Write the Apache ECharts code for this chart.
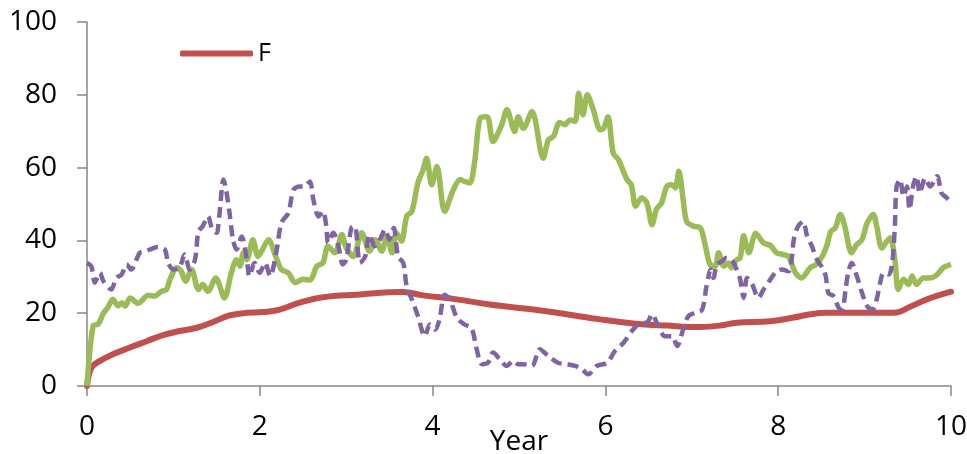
<!DOCTYPE html>
<html>
<head>
<meta charset="utf-8">
<script src="https://cdn.jsdelivr.net/npm/echarts@6/dist/echarts.min.js"></script>
<style>
  html, body { margin: 0; padding: 0; background: #fff; }
  #chart { width: 967px; height: 454px; }
</style>
</head>
<body>
<div id="chart"></div>
<script>
// F (red, smooth)
const fYears = [0, 0.05, 0.15, 0.3, 0.49, 0.69, 0.88, 1.07, 1.27, 1.46, 1.65, 1.85, 2.04, 2.23, 2.46, 2.73, 3.12, 3.66, 3.89, 4.28, 4.66, 5.17, 5.55, 5.94, 6.32, 6.71, 7.1, 7.33, 7.52, 7.91, 8.18, 8.37, 8.56, 8.95, 9.34, 9.54, 9.72, 10];
const fValues = [0, 5, 6.9, 8.7, 10.5, 12.3, 14, 15.1, 16, 17.6, 19.4, 20.1, 20.3, 21, 22.9, 24.4, 25.1, 25.8, 24.9, 23.8, 22.4, 21, 19.7, 18.3, 17.2, 16.6, 16.2, 16.6, 17.4, 17.8, 18.8, 19.7, 20.1, 20.1, 20.1, 21.9, 23.8, 25.9];

// green (solid)
const gYears = [0, 0.07, 0.13, 0.19, 0.24, 0.3, 0.36, 0.4, 0.44, 0.5, 0.59, 0.71, 0.78, 0.86, 0.92, 0.96, 1.04, 1.09, 1.14, 1.21, 1.29, 1.34, 1.4, 1.49, 1.59, 1.67, 1.73, 1.77, 1.81, 1.85, 1.92, 1.98, 2.02, 2.1, 2.19, 2.25, 2.33, 2.41, 2.5, 2.58, 2.66, 2.73, 2.79, 2.87, 2.95, 3.0, 3.08, 3.18, 3.27, 3.34, 3.41, 3.47, 3.53, 3.58, 3.64, 3.7, 3.76, 3.83, 3.89, 3.93, 3.99, 4.05, 4.14, 4.24, 4.32, 4.37, 4.43, 4.49, 4.55, 4.63, 4.7, 4.8, 4.86, 4.95, 4.99, 5.05, 5.15, 5.28, 5.34, 5.4, 5.47, 5.53, 5.59, 5.65, 5.69, 5.74, 5.79, 5.86, 5.94, 5.98, 6.03, 6.09, 6.15, 6.25, 6.3, 6.35, 6.42, 6.48, 6.54, 6.59, 6.65, 6.71, 6.77, 6.81, 6.85, 6.9, 6.94, 7.02, 7.1, 7.15, 7.21, 7.27, 7.31, 7.37, 7.42, 7.46, 7.52, 7.56, 7.6, 7.66, 7.74, 7.83, 7.91, 7.98, 8.06, 8.12, 8.2, 8.27, 8.37, 8.44, 8.51, 8.56, 8.61, 8.66, 8.72, 8.77, 8.85, 8.91, 8.97, 9.03, 9.1, 9.14, 9.2, 9.26, 9.3, 9.35, 9.39, 9.45, 9.51, 9.55, 9.6, 9.68, 9.76, 9.84, 9.91, 10];
const gValues = [0, 16.5, 17, 20, 21.5, 23.8, 22, 22.9, 22, 24.2, 22.7, 24.9, 24.7, 26, 26.5, 29.3, 32.5, 31.5, 28.8, 32, 26.5, 27.9, 26, 29.7, 24.2, 31.1, 34.7, 32.9, 36.6, 34.7, 40.2, 35.6, 37, 40.2, 35.2, 32, 31.1, 28.4, 29.3, 29.1, 32.9, 33.8, 38.4, 36.6, 41.6, 37.9, 35.6, 42.1, 37, 40.2, 37, 41.1, 36.6, 42.1, 39.8, 46.6, 48, 55.8, 59.4, 62.6, 55.3, 60.3, 48, 53.9, 56.7, 56.2, 55.8, 62.2, 73.6, 74, 67.2, 71.8, 75.9, 69.9, 74, 70.8, 75.4, 62.6, 67.6, 68.6, 72.4, 71.8, 73.1, 72.7, 80.4, 74.5, 80, 75.9, 70.4, 70.8, 74, 64, 62.2, 56.7, 55.3, 49.4, 51.7, 50.3, 44.3, 48.5, 50.3, 54.8, 55.3, 54.4, 59, 51.2, 45.2, 43.9, 43.4, 39.3, 33.4, 32.9, 36.6, 32.9, 33.8, 32.5, 34.7, 35.2, 41.3, 36.6, 41.9, 39.3, 38.6, 36.6, 36.1, 35.6, 31.1, 29.7, 32.5, 33.4, 35.6, 38.4, 42.5, 43.4, 47.1, 43.9, 36.6, 38.9, 40.2, 44.8, 47.1, 43.9, 37.9, 39.8, 40.7, 34.7, 26.5, 29.3, 27.9, 30.2, 27.9, 29.7, 29.7, 30.6, 32.5, 33.4];

// purple (dashed)
const pYears = [0, 0.05, 0.09, 0.15, 0.19, 0.28, 0.34, 0.4, 0.46, 0.51, 0.61, 0.67, 0.75, 0.82, 0.9, 0.94, 1.0, 1.07, 1.13, 1.19, 1.25, 1.29, 1.34, 1.4, 1.45, 1.5, 1.53, 1.58, 1.61, 1.65, 1.69, 1.73, 1.79, 1.85, 1.88, 1.94, 2.0, 2.06, 2.12, 2.19, 2.25, 2.33, 2.39, 2.46, 2.52, 2.58, 2.62, 2.68, 2.73, 2.77, 2.79, 2.85, 2.91, 2.96, 3.0, 3.06, 3.1, 3.16, 3.22, 3.27, 3.33, 3.39, 3.45, 3.5, 3.55, 3.6, 3.66, 3.7, 3.76, 3.83, 3.91, 3.97, 4.03, 4.08, 4.14, 4.2, 4.28, 4.37, 4.45, 4.51, 4.57, 4.64, 4.7, 4.78, 4.86, 4.93, 4.99, 5.05, 5.15, 5.24, 5.34, 5.45, 5.55, 5.65, 5.73, 5.8, 5.9, 6.02, 6.11, 6.21, 6.32, 6.42, 6.48, 6.54, 6.61, 6.69, 6.77, 6.83, 6.9, 6.96, 7.04, 7.12, 7.17, 7.22, 7.25, 7.29, 7.35, 7.4, 7.46, 7.52, 7.56, 7.6, 7.64, 7.7, 7.77, 7.83, 7.91, 7.98, 8.04, 8.12, 8.16, 8.18, 8.23, 8.29, 8.33, 8.39, 8.45, 8.51, 8.55, 8.58, 8.64, 8.7, 8.74, 8.78, 8.81, 8.85, 8.91, 8.97, 9.03, 9.09, 9.14, 9.18, 9.22, 9.28, 9.32, 9.35, 9.37, 9.41, 9.45, 9.49, 9.52, 9.56, 9.6, 9.64, 9.7, 9.76, 9.84, 9.89, 9.95, 10];
const pValues = [33.8, 32.9, 28.4, 31.1, 28.8, 26.5, 29.7, 30.6, 33.4, 32, 36.6, 37, 37.7, 38.2, 37.5, 33.8, 32, 32.5, 36.1, 32, 34.7, 42.5, 43.9, 46.6, 43, 42.1, 46.6, 56.7, 53.9, 47.5, 40.2, 37.5, 41.1, 34.7, 30.2, 33.8, 31.1, 33.8, 30.2, 36.6, 44.8, 47.5, 53.9, 54.8, 54.8, 56.2, 51.2, 46.6, 48, 43.9, 39.3, 42.1, 38.4, 33.4, 34.7, 43.4, 43.9, 33.8, 35.6, 41.6, 38.4, 40.2, 43, 40.2, 43.4, 35.6, 33.8, 27.4, 23.8, 19.2, 13.7, 16.9, 15.5, 18.3, 25.1, 23.8, 18.8, 16.9, 16, 10.1, 6, 6.4, 9.2, 7.3, 5.5, 6.9, 6, 6, 5.5, 10.1, 8.2, 6.4, 6, 5.5, 4.6, 3.2, 5.5, 6.4, 9.6, 11.9, 15.5, 17.4, 17.4, 19.7, 16.5, 13.7, 13.7, 11, 15.5, 19.2, 20.1, 21, 27.4, 32, 29.7, 33.4, 34.3, 35.2, 34.7, 32, 29.3, 24.2, 29.7, 27.9, 24.2, 26.5, 29.3, 31.5, 32, 31.5, 35.6, 40.2, 43.9, 45.2, 41.6, 38.4, 34.7, 32.5, 30.2, 25.6, 24.7, 21.5, 21, 26.5, 31.1, 33.8, 30.2, 25.6, 21.9, 21, 23.8, 28.4, 31.1, 30.6, 33.8, 43.9, 54.8, 56.7, 52.1, 54.8, 48.5, 54.8, 57.6, 53, 57.1, 54.8, 57.6, 53, 51.7, 50.3];

const yTicks = [0, 20, 40, 60, 80, 100];
const xTicks = [0, 2, 4, 6, 8, 10];

function pairs(xs, ys) {
  return xs.map((x, i) => [x, ys[i]]);
}

const myChart = echarts.init(document.getElementById("chart"));
const font = "'Open Sans', 'Liberation Sans', sans-serif";
const axisGray = "#868686";

const option = {
  animation: false,
  grid: { left: 87, right: 16, top: 22, bottom: 68, outerBoundsMode: "none", containLabel: false },
  legend: {
    data: ["F"],
    left: 175,
    top: 36,
    icon: "roundRect",
    itemWidth: 73,
    itemHeight: 6,
    itemGap: 4,
    textStyle: { fontFamily: font, fontSize: 25, color: "#000" }
  },
  xAxis: {
    type: "value",
    min: xTicks[0],
    max: xTicks[xTicks.length - 1],
    interval: 2,
    name: "Year",
    nameLocation: "middle",
    nameGap: 42,
    nameMoveOverlap: false,
    nameTextStyle: { fontFamily: font, fontSize: 28, color: "#000", verticalAlign: "top" },
    axisLine: { lineStyle: { color: axisGray, width: 1.5 } },
    axisTick: { show: true, length: 10, lineStyle: { color: axisGray, width: 1.5 } },
    axisLabel: { margin: 27, fontFamily: font, fontSize: 28, color: "#000" },
    splitLine: { show: false }
  },
  yAxis: {
    type: "value",
    min: yTicks[0],
    max: yTicks[yTicks.length - 1],
    interval: 20,
    axisLine: { show: true, lineStyle: { color: axisGray, width: 1.5 } },
    axisTick: { show: true, length: 10, lineStyle: { color: axisGray, width: 1.5 } },
    axisLabel: { margin: 30, fontFamily: font, fontSize: 28, color: "#000" },
    splitLine: { show: false }
  },
  series: [
    {
      name: "F",
      type: "line",
      data: pairs(fYears, fValues),
      smooth: 0.4,
      showSymbol: false,
      lineStyle: { color: "#C0504D", width: 6, cap: "round" },
      itemStyle: { color: "#C0504D" }
    },
    {
      name: "G",
      type: "line",
      data: pairs(gYears, gValues),
      smooth: 0.3,
      showSymbol: false,
      lineStyle: { color: "#9BBB59", width: 5.5, join: "round" },
      itemStyle: { color: "#9BBB59" }
    },
    {
      name: "P",
      type: "line",
      data: pairs(pYears, pValues),
      smooth: 0.3,
      showSymbol: false,
      lineStyle: { color: "#8064A2", width: 4.5, type: [11, 6] },
      itemStyle: { color: "#8064A2" }
    }
  ]
};

myChart.setOption(option);
</script>
</body>
</html>
